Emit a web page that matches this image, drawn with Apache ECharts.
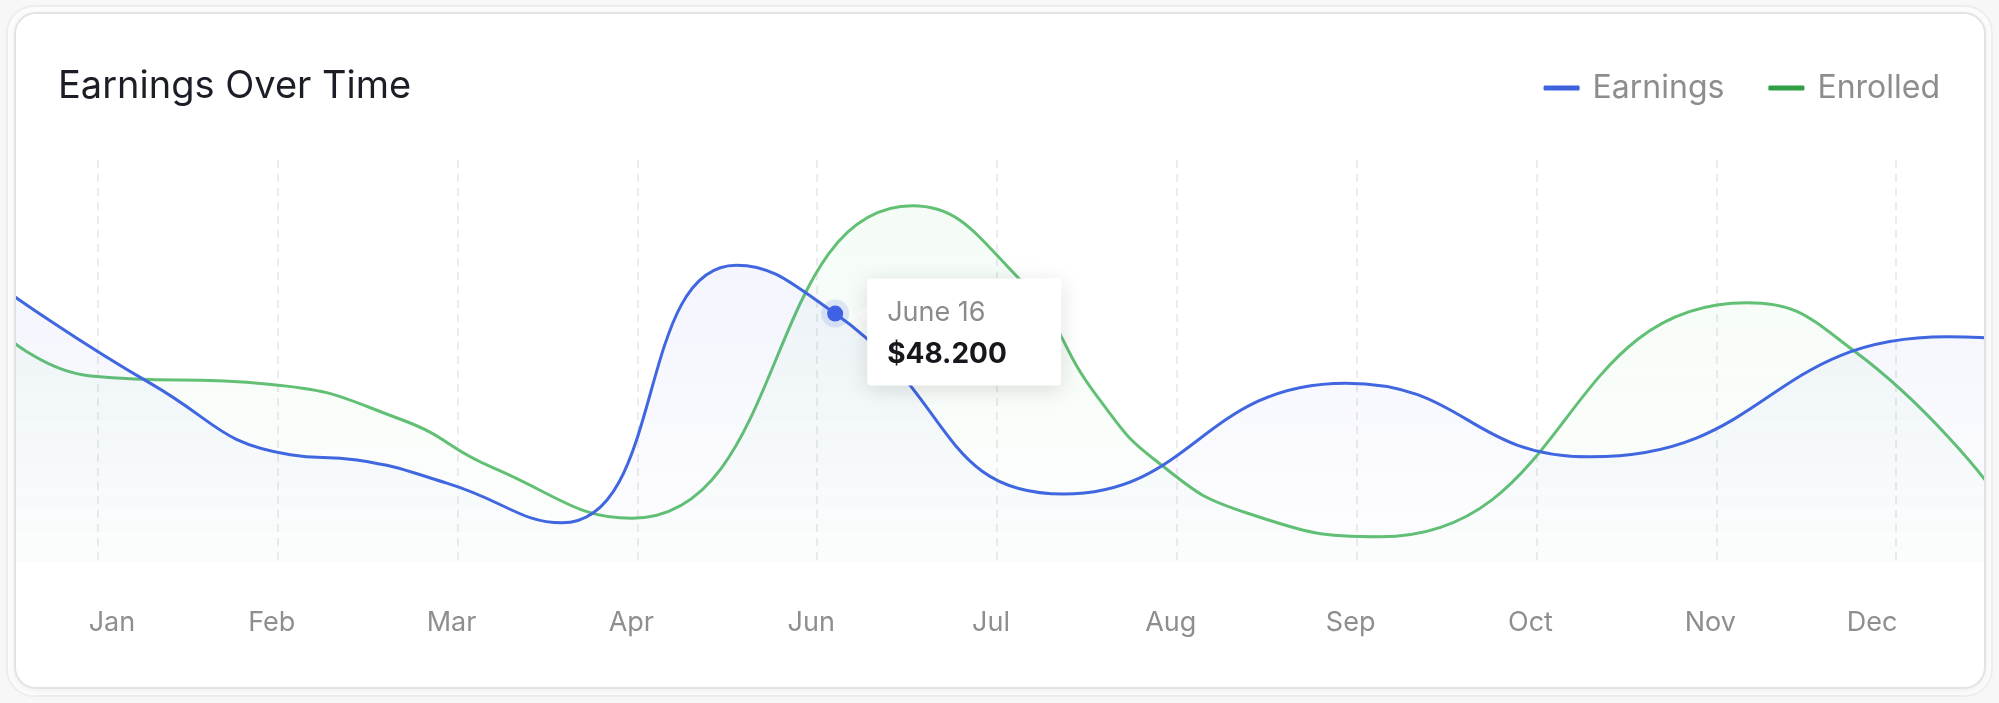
<!DOCTYPE html>
<html>
<head>
<meta charset="utf-8">
<title>Earnings Over Time</title>
<script src="https://cdn.jsdelivr.net/npm/echarts@6/dist/echarts.min.js"></script>
<style>
  html, body { margin: 0; padding: 0; }
  body { width: 1999px; height: 703px; background: #f7f7f7; position: relative; overflow: hidden; }
  .frame {
    position: absolute; left: 6px; top: 5px; width: 1987px; height: 692px;
    box-sizing: border-box; border: 2px solid #ededed; border-radius: 28px; background: #fcfcfc;
  }
  .card {
    position: absolute; left: 14px; top: 12px; width: 1972px; height: 677px;
    box-sizing: border-box; border: 2px solid #e3e3e3; border-radius: 22px;
    background: #fff; overflow: hidden; box-shadow: 0 2px 6px rgba(0, 0, 0, 0.05);
  }
  #main { position: absolute; left: -16px; top: -14px; width: 1999px; height: 703px; }
</style>
</head>
<body>
<div class="frame"></div>
<div class="card"><div id="main"></div></div>
<script>
  // x = month slot (0 = Jan label), y = value in thousands
  const monthLabels = ["Jan", "Feb", "Mar", "Apr", "Jun", "Jul", "Aug", "Sep", "Oct", "Nov", "Dec"];
  const earnings = [
    [-0.5, 52.4], [0.29, 34.7], [1.07, 20.8], [1.44, 19.8], [1.94, 15.3], [2.58, 7.6],
    [3.55, 57.6], [4.1, 48.2], [5.37, 13.2], [6.94, 34.7], [8.3, 20.4], [10.28, 43.7],
    [10.5, 43.5]
  ];
  const enrolled = [
    [-0.5, 43.5], [-0.04, 36.1], [0.95, 34.5], [1.69, 27.6], [2.19, 18.4], [2.97, 8.5],
    [4.53, 69.1], [5.13, 54.7], [5.56, 32.0], [5.9, 19.2], [6.39, 9.5], [7.13, 4.9],
    [9.17, 50.3], [9.78, 40.6], [10.5, 15.7]
  ];
  const tipIndex = 7;
  const tipDate = "June 16";

  const blue = "#4066e0";
  const green = "#62c074";
  const font = "Inter";

  const chart = echarts.init(document.getElementById("main"));

  const labelFmt = (v) => {
    if (v !== Math.round(v) || v < 0 || v >= monthLabels.length) return "";
    if (v === 0) return "{first|" + monthLabels[v] + "}";
    if (v === monthLabels.length - 1) return "{last|" + monthLabels[v] + "}";
    return monthLabels[v];
  };

  const areaFill = (r, g, b, a0, a1) => ({
    type: "linear", x: 0, y: 0, x2: 0, y2: 1,
    colorStops: [
      { offset: 0, color: `rgba(${r},${g},${b},${a0})` },
      { offset: 1, color: `rgba(${r},${g},${b},${a1})` },
    ],
  });

  const option = {
    animation: false,
    title: {
      text: "Earnings Over Time",
      left: 58,
      top: 64,
      padding: 0,
      textStyle: { fontFamily: font, fontSize: 38, fontWeight: 400, color: "#1b1e27", lineHeight: 46 },
    },
    legend: {
      right: 59,
      top: 68,
      padding: 0,
      icon: "roundRect",
      itemWidth: 36,
      itemHeight: 5,
      itemGap: 44,
      textStyle: { fontFamily: font, fontSize: 32, color: "#8d8d8d", lineHeight: 40, padding: [0, 0, 0, 8] },
      data: [
        { name: "Earnings", itemStyle: { color: "#3e63dd" } },
        { name: "Enrolled", itemStyle: { color: "#2f9e44" } },
      ],
    },
    grid: { left: 8, right: 13, top: 160, bottom: 141 },
    xAxis: {
      type: "value",
      min: -0.5,
      max: 10.5,
      splitNumber: 11,
      minInterval: 1,
      maxInterval: 1,
      axisLine: { show: false },
      axisTick: { show: false },
      axisLabel: {
        showMinLabel: false,
        showMaxLabel: false,
        formatter: labelFmt,
        color: "#8e8e8e",
        fontFamily: font,
        fontSize: 27,
        lineHeight: 32,
        margin: 45,
        padding: [0, 12, 0, 0],
        rich: {
          first: { color: "#8e8e8e", fontFamily: font, fontSize: 27, padding: [0, 0, 0, 40] },
          last: { color: "#8e8e8e", fontFamily: font, fontSize: 27, padding: [0, 36, 0, 0] },
        },
      },
      splitLine: {
        show: true,
        showMinLine: false,
        showMaxLine: false,
        lineStyle: { color: "#ececec", width: 2, type: [8, 6] },
      },
    },
    yAxis: {
      type: "value",
      min: 0,
      max: 78,
      show: false,
      splitLine: { show: false },
    },
    series: [
      {
        name: "Earnings",
        type: "line",
        data: earnings,
        smooth: 0.5,
        symbol: "none",
        z: 3,
        lineStyle: { color: blue, width: 3 },
        itemStyle: { color: blue },
        areaStyle: { color: areaFill(76, 96, 230, 0.09, 0.01) },
        markPoint: {
          z: 10,
          data: [
            {
              coord: earnings[tipIndex],
              symbol: "circle",
              symbolSize: 16,
              itemStyle: { color: "#3f62e4", borderColor: "rgba(64,98,228,0.15)", borderWidth: 12 },
              label: {
                show: true,
                position: [46, -21],
                align: "left",
                verticalAlign: "top",
                backgroundColor: "#fff",
                borderRadius: 4,
                shadowBlur: 22,
                shadowColor: "rgba(0,0,0,0.13)",
                shadowOffsetY: 4,
                padding: [13, 0, 10, 20],
                width: 174,
                formatter: () => `{d|${tipDate}}\n{v|$${earnings[tipIndex][1].toFixed(3)}}`,
                rich: {
                  d: { fontFamily: font, fontSize: 27, color: "#8b8b8b", lineHeight: 42 },
                  v: { fontFamily: font, fontSize: 28, fontWeight: 700, color: "#15171c", lineHeight: 42 },
                },
              },
            },
            {
              coord: earnings[tipIndex],
              symbol: "triangle",
              symbolSize: [22, 12],
              symbolRotate: 90,
              symbolOffset: [28, 0],
              itemStyle: { color: "#fff" },
              label: { show: false },
            },
          ],
        },
      },
      {
        name: "Enrolled",
        type: "line",
        data: enrolled,
        smooth: 0.5,
        symbol: "none",
        z: 2,
        lineStyle: { color: green, width: 3 },
        itemStyle: { color: green },
        areaStyle: { color: areaFill(90, 200, 110, 0.09, 0.02) },
      },
    ],
  };

  chart.setOption(option);
</script>
</body>
</html>
